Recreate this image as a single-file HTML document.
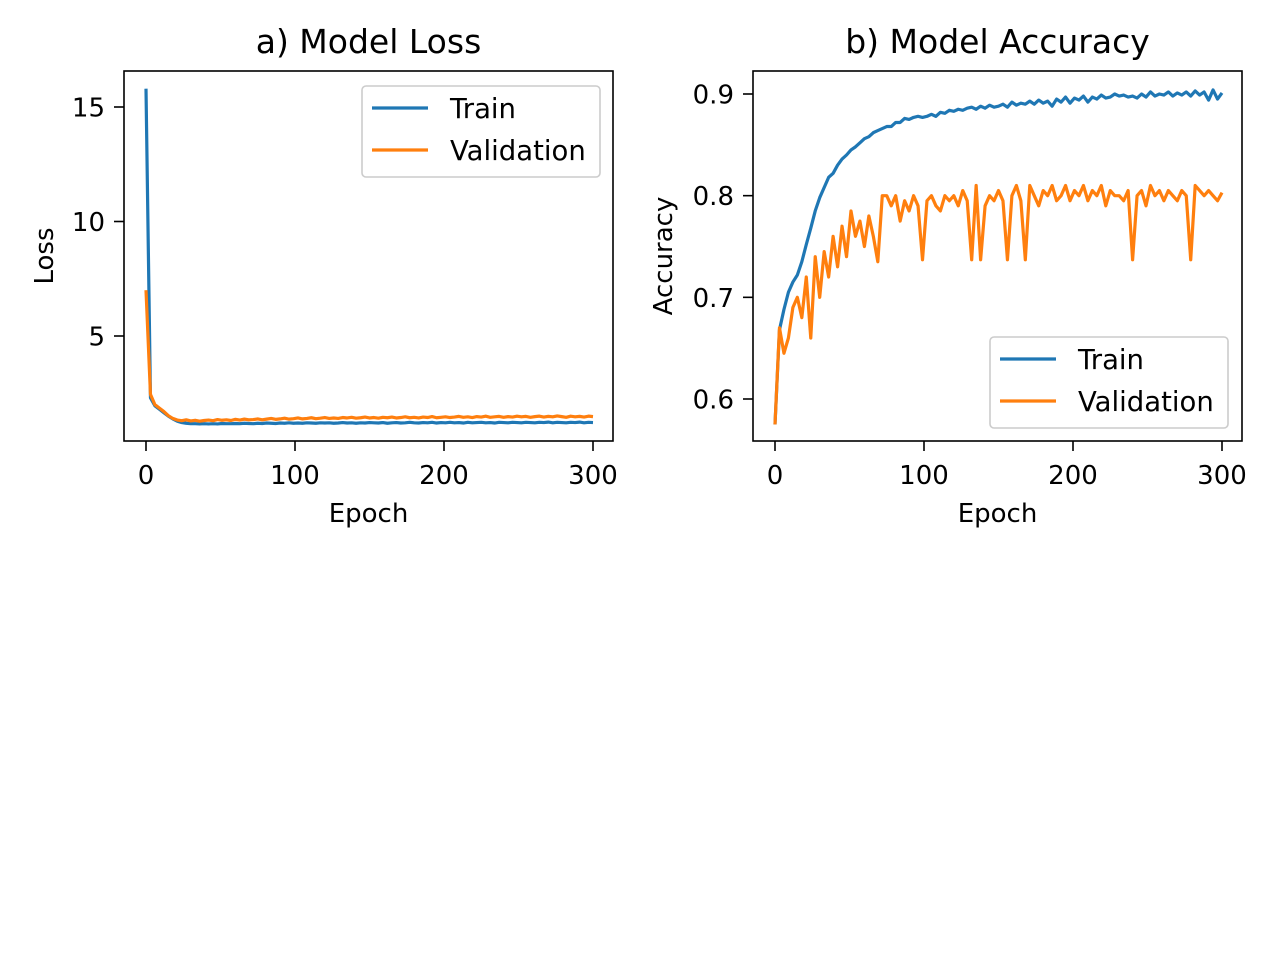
<!DOCTYPE html>
<html><head><meta charset="utf-8"><style>
body{margin:0;background:#fff}
svg{display:block;font-family:"DejaVu Sans","Liberation Sans",sans-serif}
</style></head><body>
<svg id="chart" width="1280" height="960" viewBox="0 0 1280 960"></svg>
<script>
const EPOCH_STEP = 3;
const trainLoss = [15.8,2.3,1.95,1.8,1.65,1.5,1.38,1.28,1.22,1.19,1.17,1.17,1.16,1.17,1.16,1.17,1.16,1.18,1.17,1.17,1.18,1.17,1.19,1.18,1.17,1.19,1.18,1.2,1.19,1.18,1.2,1.19,1.21,1.19,1.2,1.19,1.21,1.2,1.19,1.21,1.2,1.21,1.19,1.2,1.22,1.2,1.21,1.19,1.21,1.2,1.22,1.21,1.2,1.22,1.19,1.21,1.22,1.2,1.21,1.23,1.21,1.2,1.22,1.21,1.23,1.2,1.22,1.21,1.23,1.21,1.22,1.2,1.23,1.21,1.22,1.23,1.21,1.22,1.2,1.23,1.22,1.21,1.23,1.22,1.21,1.23,1.22,1.21,1.23,1.22,1.24,1.21,1.23,1.22,1.21,1.23,1.22,1.24,1.21,1.23,1.22];
const valLoss = [7.0,2.45,2.0,1.85,1.7,1.52,1.4,1.33,1.3,1.34,1.29,1.32,1.28,1.31,1.33,1.3,1.35,1.32,1.34,1.31,1.36,1.33,1.37,1.34,1.35,1.38,1.34,1.37,1.4,1.36,1.38,1.41,1.37,1.39,1.42,1.38,1.4,1.43,1.39,1.41,1.44,1.4,1.42,1.4,1.44,1.42,1.45,1.41,1.43,1.46,1.42,1.44,1.41,1.45,1.43,1.46,1.42,1.44,1.47,1.43,1.45,1.42,1.46,1.44,1.48,1.43,1.45,1.47,1.44,1.46,1.49,1.45,1.47,1.44,1.48,1.46,1.5,1.45,1.47,1.49,1.45,1.48,1.46,1.5,1.47,1.49,1.45,1.48,1.5,1.46,1.49,1.47,1.51,1.48,1.45,1.5,1.47,1.49,1.46,1.5,1.48];
const trainAcc = [0.575,0.668,0.688,0.705,0.715,0.722,0.735,0.752,0.768,0.785,0.798,0.808,0.818,0.822,0.83,0.836,0.84,0.845,0.848,0.852,0.856,0.858,0.862,0.864,0.866,0.868,0.868,0.872,0.872,0.876,0.875,0.877,0.878,0.877,0.878,0.88,0.878,0.882,0.881,0.884,0.883,0.885,0.884,0.886,0.887,0.885,0.888,0.886,0.889,0.887,0.888,0.89,0.887,0.892,0.889,0.891,0.89,0.893,0.89,0.894,0.891,0.893,0.888,0.895,0.892,0.897,0.891,0.896,0.894,0.898,0.892,0.897,0.895,0.899,0.896,0.897,0.9,0.898,0.899,0.897,0.898,0.896,0.9,0.897,0.902,0.898,0.9,0.899,0.902,0.898,0.901,0.899,0.902,0.898,0.903,0.899,0.902,0.894,0.904,0.895,0.901];
const valAcc = [0.575,0.67,0.645,0.66,0.69,0.7,0.68,0.72,0.66,0.74,0.70,0.745,0.72,0.76,0.73,0.77,0.74,0.785,0.76,0.775,0.75,0.78,0.76,0.735,0.8,0.8,0.79,0.8,0.775,0.795,0.785,0.8,0.79,0.737,0.795,0.8,0.79,0.785,0.8,0.795,0.8,0.79,0.805,0.795,0.737,0.81,0.737,0.79,0.8,0.795,0.805,0.795,0.737,0.8,0.81,0.795,0.737,0.81,0.8,0.79,0.805,0.8,0.81,0.795,0.8,0.81,0.795,0.805,0.8,0.81,0.795,0.805,0.8,0.81,0.79,0.805,0.8,0.8,0.795,0.805,0.737,0.8,0.805,0.79,0.81,0.8,0.805,0.795,0.805,0.8,0.795,0.805,0.8,0.737,0.81,0.805,0.8,0.805,0.8,0.795,0.803];
const xTicks = [0,100,200,300];
const lossTicks = [5,10,15];
const accTicks = [0.6,0.7,0.8,0.9];
const accTickLabels = ["0.6","0.7","0.8","0.9"];

const NS="http://www.w3.org/2000/svg";
const svg=document.getElementById('chart');
function mk(tag,attrs,parent){const e=document.createElementNS(NS,tag);for(const k in attrs)e.setAttribute(k,attrs[k]);(parent||svg).appendChild(e);return e;}
function txt(s,attrs,parent){const e=mk('text',attrs,parent);e.textContent=s;return e;}

function panel(cfg){
  const g=mk('g',{});
  
  
  const L=cfg.left,R=cfg.right,T=71,B=441;
  const xs=v=>cfg.x0+(v-0)*(cfg.x300-cfg.x0)/300;
  const ys=v=>cfg.yA+(v-cfg.vA)*(cfg.yB-cfg.yA)/(cfg.vB-cfg.vA);
  cfg.series.forEach(s=>{
    const d=s.data.map((v,i)=>(i?'L':'M')+xs(i*EPOCH_STEP).toFixed(2)+','+ys(v).toFixed(2)).join('');
    const p=mk('path',{d:d,fill:'none',stroke:s.color,'stroke-width':3.2,'stroke-linejoin':'round'},g);
    
    
  });
  const f=mk('rect',{x:L,y:T,width:R-L,height:B-T,fill:'none',stroke:'#000','stroke-width':1.6},g);
  
  
  xTicks.forEach(t=>{
    const x=xs(t);
    mk('line',{x1:x,x2:x,y1:B,y2:B+10,stroke:'#000','stroke-width':1.6},g);
    const l=txt(String(t),{x:x,y:B+43,'font-size':26,'text-anchor':'middle',fill:'#000'},g);
    
    
  });
  cfg.yticks.forEach((t,i)=>{
    const y=ys(t);
    mk('line',{x1:L-10,x2:L,y1:y,y2:y,stroke:'#000','stroke-width':1.6},g);
    const l=txt(cfg.ylabels[i],{x:L-19,y:y+9.5,'font-size':26,'text-anchor':'end',fill:'#000'},g);
    
    
  });
  const ti=txt(cfg.title,{x:(L+R)/2,y:53,'font-size':33,'text-anchor':'middle',fill:'#000'},g);
  
  
  const xl=txt('Epoch',{x:(L+R)/2,y:522,'font-size':26,'text-anchor':'middle',fill:'#000'},g);
  
  
  const yl=txt(cfg.ytitle,{x:0,y:0,'font-size':26,'text-anchor':'middle',fill:'#000',transform:`translate(${cfg.ytx},${(T+B)/2}) rotate(-90)`},g);
  
  
  const lg=mk('g',{},g);
  
  
  mk('rect',{x:cfg.lx,y:cfg.ly,width:238,height:91,rx:4,fill:'#fff',stroke:'#ccc','stroke-width':1.6},lg);
  cfg.series.forEach((s,i)=>{
    const yy=cfg.ly+22+i*42;
    mk('line',{x1:cfg.lx+10,x2:cfg.lx+66,y1:yy,y2:yy,stroke:s.color,'stroke-width':3.2},lg);
    const t=txt(s.label,{x:cfg.lx+88,y:yy+10,'font-size':27.5,fill:'#000'},lg);
    
    
  });
}
panel({name:'loss-panel',left:124,right:613,x0:146,x300:593,vA:15,yA:107,vB:5,yB:336,
  yticks:lossTicks,ylabels:lossTicks.map(String),title:'a) Model Loss',ytitle:'Loss',ytx:53,lx:362,ly:86,
  series:[{id:'train-loss-line',data:trainLoss,color:'#1f77b4',label:'Train'},{id:'val-loss-line',data:valLoss,color:'#ff7f0e',label:'Validation'}]});
panel({name:'accuracy-panel',left:753,right:1242,x0:775,x300:1222,vA:0.9,yA:94,vB:0.6,yB:399,
  yticks:accTicks,ylabels:accTickLabels,title:'b) Model Accuracy',ytitle:'Accuracy',ytx:672,lx:990,ly:337,
  series:[{id:'train-acc-line',data:trainAcc,color:'#1f77b4',label:'Train'},{id:'val-acc-line',data:valAcc,color:'#ff7f0e',label:'Validation'}]});
</script>
</body></html>
